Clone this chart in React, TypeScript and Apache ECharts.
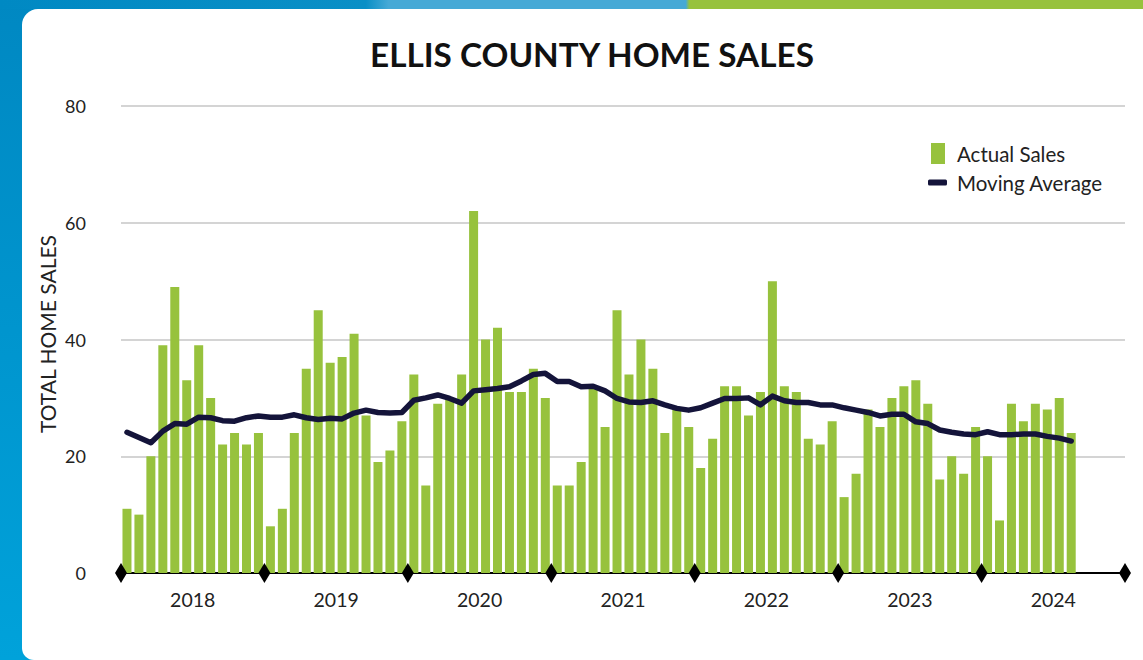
import React, { useEffect, useRef } from "react";
import * as echarts from "echarts";

const years = ["2018", "2019", "2020", "2021", "2022", "2023", "2024"];
const monthNames = ["Jan", "Feb", "Mar", "Apr", "May", "Jun", "Jul", "Aug", "Sep", "Oct", "Nov", "Dec"];

const actualSales = [
  11, 10, 20, 39, 49, 33, 39, 30, 22, 24, 22, 24,
  8, 11, 24, 35, 45, 36, 37, 41, 27, 19, 21, 26,
  34, 15, 29, 30, 34, 62, 40, 42, 31, 31, 35, 30,
  15, 15, 19, 32, 25, 45, 34, 40, 35, 24, 28, 25,
  18, 23, 32, 32, 27, 31, 50, 32, 31, 23, 22, 26,
  13, 17, 28, 25, 30, 32, 33, 29, 16, 20, 17, 25,
  20, 9, 29, 26, 29, 28, 30, 24,
];

const movingAverage = [
  24.1, 23.2, 22.3, 24.3, 25.6, 25.5, 26.7, 26.6, 26.1, 26.0, 26.6, 26.9,
  26.7, 26.7, 27.1, 26.6, 26.3, 26.5, 26.4, 27.4, 27.9, 27.5, 27.4, 27.5,
  29.6, 30.0, 30.5, 29.9, 29.1, 31.2, 31.4, 31.6, 31.9, 32.9, 34.0, 34.2,
  32.8, 32.8, 31.9, 32.0, 31.2, 29.9, 29.3, 29.2, 29.5, 28.8, 28.2, 27.9,
  28.3, 29.1, 29.9, 29.9, 30.0, 28.8, 30.3, 29.5, 29.2, 29.2, 28.8, 28.8,
  28.3, 27.9, 27.5, 26.9, 27.2, 27.2, 25.9, 25.6, 24.5, 24.1, 23.8, 23.7,
  24.2, 23.7, 23.7, 23.8, 23.8, 23.4, 23.1, 22.6,
];

const yTicks = [0, 20, 40, 60, 80];

const categories: string[] = [];
years.forEach((y) => monthNames.forEach((m) => categories.push(`${m} ${y}`)));
const yearBoundaries = years.map((_, i) => i * 12).concat([years.length * 12]);

const FONT = "Lato, 'Open Sans', sans-serif";

export default function App() {
  const ref = useRef<HTMLDivElement>(null);

  useEffect(() => {
    if (!ref.current) return;
    const chart = echarts.init(ref.current, null, { renderer: "svg" });
    chart.setOption({
      animation: false,
      textStyle: { fontFamily: FONT },
      title: {
        text: "ELLIS COUNTY HOME SALES",
        left: 370,
        top: 37,
        padding: 0,
        textStyle: { fontFamily: FONT, fontSize: 33.3, fontWeight: "bold", color: "#111" },
      },
      legend: [
        {
          data: ["Actual Sales"],
          left: 931,
          top: 143,
          padding: 0,
          itemWidth: 14,
          itemHeight: 21,
          icon: "rect",
          textStyle: { fontFamily: FONT, fontSize: 20.5, color: "#222", padding: [0, 0, 0, 7] },
        },
        {
          data: ["Moving Average"],
          left: 928,
          top: 172,
          padding: 0,
          itemWidth: 19,
          itemHeight: 6,
          icon: "roundRect",
          textStyle: { fontFamily: FONT, fontSize: 20.5, color: "#222", padding: [0, 0, 0, 5] },
        },
      ],
      grid: { left: 121, right: 18, top: 106, bottom: 87, containLabel: false },
      xAxis: [
        {
          type: "category",
          data: categories,
          boundaryGap: true,
          position: "bottom",
          axisLine: { show: true, lineStyle: { color: "#000", width: 2 } },
          axisTick: { show: false },
          axisLabel: { show: false },
          splitLine: { show: false },
        },
        {
          type: "value",
          min: 0,
          max: years.length * 12,
          interval: 6,
          position: "bottom",
          axisLine: { show: false },
          axisTick: { show: false },
          splitLine: { show: false },
          axisLabel: {
            margin: 16,
            fontSize: 19.5,
            color: "#222",
            fontFamily: FONT,
            formatter: (v: number) => (v % 12 === 6 ? years[(v - 6) / 12] : ""),
          },
        },
      ],
      yAxis: {
        type: "value",
        min: yTicks[0],
        max: yTicks[yTicks.length - 1],
        interval: 20,
        axisLine: { show: false },
        axisTick: { show: false },
        axisLabel: { margin: 35, fontSize: 18, color: "#222", fontFamily: FONT },
        splitLine: { lineStyle: { color: "#c6c6c6", width: 1.5 } },
      },
      graphic: [
        {
          type: "text",
          x: 47,
          y: 334,
          rotation: Math.PI / 2,
          style: {
            text: "TOTAL HOME SALES",
            fontFamily: FONT,
            fontSize: 21,
            fill: "#222",
            align: "center",
            verticalAlign: "middle",
          },
        },
      ],
      series: [
        {
          name: "Actual Sales",
          type: "bar",
          data: actualSales,
          barWidth: 9,
          itemStyle: { color: "#97c23d" },
          z: 2,
        },
        {
          name: "Moving Average",
          type: "line",
          data: movingAverage,
          showSymbol: false,
          symbol: "none",
          lineStyle: { color: "#14143a", width: 5.5, cap: "round", join: "round" },
          itemStyle: { color: "#14143a" },
          z: 4,
        },
        {
          name: "Year Markers",
          type: "scatter",
          xAxisIndex: 1,
          yAxisIndex: 0,
          data: yearBoundaries.map((v) => [v, 0]),
          symbol: "diamond",
          symbolSize: [12, 20],
          itemStyle: { color: "#000", opacity: 1 },
          clip: false,
          silent: true,
          z: 6,
        },
      ],
    });
    return () => chart.dispose();
  }, []);

  return (
    <div
      style={{
        position: "fixed",
        left: 0,
        top: 0,
        width: 1143,
        height: 660,
        background: "linear-gradient(180deg, #0088c2 0%, #00a2da 100%)",
        overflow: "hidden",
      }}
    >
      <div
        style={{
          position: "absolute",
          left: 0,
          top: 0,
          width: 1143,
          height: 9,
          background:
            "linear-gradient(90deg, #0089c3 0%, #0a8fc6 32%, #46a9d6 34%, #46a9d6 60%, #97c23d 60.3%, #97c23d 100%)",
        }}
      />
      <div
        style={{
          position: "absolute",
          left: 22,
          top: 9,
          width: 1121,
          height: 651,
          background: "#fff",
          borderRadius: "16px 0 0 12px",
        }}
      />
      <div ref={ref} style={{ position: "absolute", left: 0, top: 0, width: 1143, height: 660 }} />
    </div>
  );
}
